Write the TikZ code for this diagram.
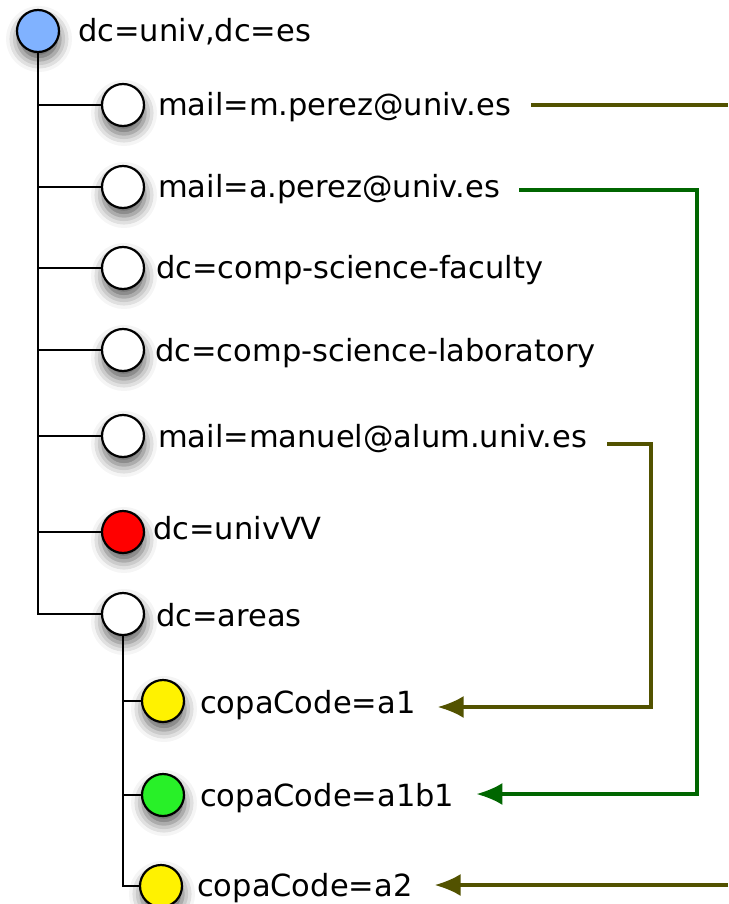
\documentclass[tikz,border=0pt]{standalone}
\usepackage{fontspec}
\setmainfont{DejaVu Sans}
\usetikzlibrary{calc,arrows.meta,shadows.blur}

\definecolor{rootblue}{RGB}{128,178,255}
\definecolor{leafgreen}{RGB}{40,240,40}
\definecolor{linkolive}{RGB}{82,82,0}
\definecolor{linkgreen}{RGB}{0,102,0}

\begin{document}
\begin{tikzpicture}[x=1pt, y=-1pt,
    entry node/.style={circle,draw,line width=2.2pt,minimum size=42pt,inner sep=0pt,fill=white,
        blur shadow={shadow xshift=1pt,shadow yshift=-8pt,shadow blur radius=12pt,shadow opacity=65}},
    name node/.style={anchor=base west,inner sep=0pt,font=\fontsize{30.5}{36}\selectfont},
    tree line/.style={line width=2.6pt},
    olive link/.style={linkolive,line width=3.4pt},
    green link/.style={linkgreen,line width=3.4pt},
    tip/.style={-{Latex[length=26pt,width=22pt]}}]
    \useasboundingbox (0,0) rectangle (728,904);

    % entries
    \node[entry node, fill=rootblue] at (38, 31) (root) {};
    \node[name node] at (78, 42) (root-t) {dc=univ,dc=es};

    \node[entry node] at (123, 105) (mperez) {};
    \node[name node] at (158, 116) (mperez-t) {mail=m.perez@univ.es};
    \node[entry node] at (123, 187) (aperez) {};
    \node[name node] at (158, 197) (aperez-t) {mail=a.perez@univ.es};
    \node[entry node] at (123, 268) (faculty) {};
    \node[name node] at (156, 278) (faculty-t) {dc=comp-science-faculty};
    \node[entry node] at (123, 350) (lab) {};
    \node[name node] at (155, 361) (lab-t) {dc=comp-science-laboratory};
    \node[entry node] at (123, 436) (manuel) {};
    \node[name node] at (158, 447) (manuel-t) {mail=manuel@alum.univ.es};
    \node[entry node, fill=red] at (123, 532) (univvv) {};
    \node[name node] at (153, 539) (univvv-t) {dc=univVV};
    \node[entry node] at (123, 614) (areas) {};
    \node[name node] at (156, 626) (areas-t) {dc=areas};

    \node[entry node, fill=yellow] at (163, 701) (a1) {};
    \node[name node] at (200, 713) (a1-t) {copaCode=a1};
    \node[entry node, fill=leafgreen] at (163, 795) (a1b1) {};
    \node[name node] at (200, 806) (a1b1-t) {copaCode=a1b1};
    \node[entry node, fill=yellow] at (161, 886) (a2) {};
    \node[name node] at (197, 896) (a2-t) {copaCode=a2};

    % tree
    \foreach \c in {mperez,aperez,faculty,lab,manuel,univvv,areas}
        \draw[tree line] (root) |- (\c);
    \foreach \c in {a1,a1b1,a2}
        \draw[tree line] (areas) |- (\c);

    % references
    \coordinate (out1) at (728, 105);
    \coordinate (out2) at (728, 885);
    \coordinate (bus1) at (697, 0);
    \coordinate (bus2) at (651, 0);

    \draw[olive link] ($(mperez-t.east |- mperez)+(20,0)$) -- (out1);
    \draw[green link, tip]
        ($(aperez-t.east |- aperez)+(19,3)$) -| ($(bus1 |- a1b1)+(0,-1)$) -- ($(a1b1-t.east |- a1b1)+(22,-1)$);
    \draw[olive link, tip]
        ($(manuel-t.east |- manuel)+(20,8)$) -| ($(bus2 |- a1)+(0,6)$) -- ($(a1-t.east |- a1)+(22,6)$);
    \draw[olive link, tip]
        (out2) -- ($(a2-t.east |- out2)+(22,0)$);
\end{tikzpicture}
\end{document}
